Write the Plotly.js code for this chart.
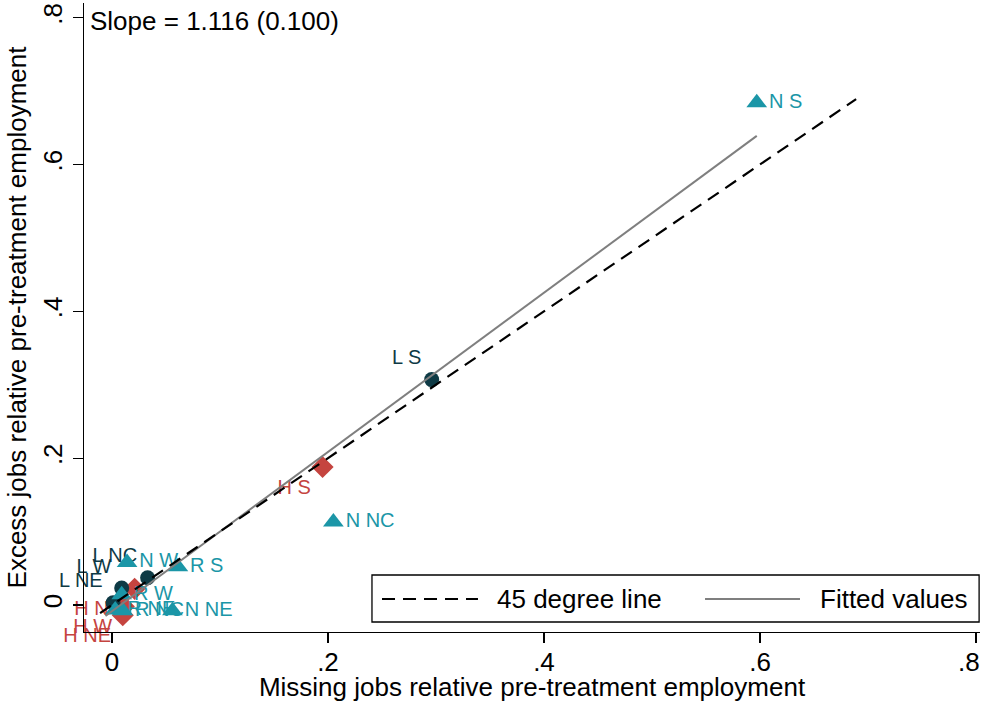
<!DOCTYPE html>
<html>
<head>
<meta charset="utf-8">
<script src="https://cdn.plot.ly/plotly-3.0.1.min.js"></script>
<style>
  html, body { margin: 0; padding: 0; background: #fff; }
  #chart { width: 981px; height: 702px; }
</style>
</head>
<body>
<div id="chart"></div>
<script>
// ---- Data ----
// Group N (teal triangles)
const nLabels = ['N S', 'N NC', 'N W', 'N NE'];
const nX = [0.597, 0.205, 0.014, 0.056];
const nY = [0.684, 0.113, 0.058, -0.008];
// Group R (teal triangles)
const rLabels = ['R S', 'R W', 'R NE', 'R NC'];
const rX = [0.061, 0.009, 0.003, 0.010];
const rY = [0.052, 0.014, -0.007, -0.008];
// Group L (dark circles)
const lLabels = ['L S', 'L NC', 'L W', 'L NE'];
const lX = [0.296, 0.033, 0.009, 0.001];
const lY = [0.307, 0.037, 0.023, 0.003];
// Group H (red diamonds)
const hLabels = ['H S', 'H NC', 'H W', 'H NE'];
const hX = [0.195, 0.021, 0.011, 0.010];
const hY = [0.188, 0.022, -0.002, -0.014];
// 45 degree line and fitted values
const diagX = [-0.011, 0.689];
const diagY = [-0.011, 0.689];
const fitX = [-0.006, 0.597];
const fitY = [-0.015, 0.639];
// Axis ticks
const tickVals = [0, 0.2, 0.4, 0.6, 0.8];
const tickText = ['0', '.2', '.4', '.6', '.8'];
const legendNames = ['45 degree line', 'Fitted values'];
const slopeText = 'Slope = 1.116 (0.100)';

// ---- Styles ----
const FONT = 'Liberation Sans, Arial, sans-serif';
const TEAL = '#1b96a7';
const DARK = '#0e3a45';
const RED = '#c5443f';

function group(x, y, labels, color, symbol, size, pos) {
  return {
    x: x, y: y, text: labels, type: 'scatter', mode: 'markers+text',
    marker: { color: color, symbol: symbol, size: size, line: { width: 0 } },
    textposition: pos,
    textfont: { family: FONT, size: 20, color: color },
    cliponaxis: false, showlegend: false, hoverinfo: 'skip'
  };
}

const traces = [
  group(hX, hY, hLabels, RED, 'diamond', 17, 'bottom left'),
  group(lX, lY, lLabels, DARK, 'circle', 15, 'top left'),
  group(nX, nY, nLabels, TEAL, 'triangle-up', 18, 'middle right'),
  group(rX, rY, rLabels, TEAL, 'triangle-up', 18, 'middle right'),
  { x: fitX, y: fitY, type: 'scatter', mode: 'lines', name: legendNames[1],
    line: { color: '#7f7f7f', width: 2 }, showlegend: false, hoverinfo: 'skip' },
  { x: diagX, y: diagY, type: 'scatter', mode: 'lines', name: legendNames[0],
    line: { color: '#000000', width: 2.2, dash: '13px,8px' }, showlegend: false, hoverinfo: 'skip' }
];

// The last x tick label sits flush with the right page edge (as in the reference)
const xTickText = tickText.map((t, i) => (i === tickText.length - 1 ? '' : t));

// Legend drawn as a boxed key (paper coordinates)
const legY = 0.0525;
const layout = {
  width: 981, height: 702,
  margin: { l: 84, r: 1, t: 3, b: 70 },
  paper_bgcolor: '#ffffff', plot_bgcolor: '#ffffff',
  font: { family: FONT, size: 26, color: '#000' },
  showlegend: false,
  xaxis: {
    range: [-0.0259, 0.8037], tickvals: tickVals, ticktext: xTickText,
    ticks: 'outside', ticklen: 10, tickwidth: 1.3, tickcolor: '#000',
    ticklabelstandoff: -4,
    showline: true, linecolor: '#000', linewidth: 1.3,
    showgrid: false, zeroline: false,
    tickfont: { family: FONT, size: 26, color: '#000' },
    title: { text: 'Missing jobs relative pre-treatment employment', font: { family: FONT, size: 26, color: '#000' }, standoff: 4 },
    automargin: false
  },
  yaxis: {
    range: [-0.0368, 0.820], tickvals: tickVals, ticktext: tickText,
    tickangle: -90,
    ticks: 'outside', ticklen: 10, tickwidth: 1.3, tickcolor: '#000',
    ticklabeloverflow: 'allow',
    showline: true, linecolor: '#000', linewidth: 1.3,
    showgrid: false, zeroline: false,
    tickfont: { family: FONT, size: 26, color: '#000' },
    title: { text: 'Excess jobs relative pre-treatment employment', font: { family: FONT, size: 26, color: '#000' }, standoff: 4 },
    automargin: false
  },
  shapes: [
    { type: 'rect', xref: 'paper', yref: 'paper', x0: 0.3214, x1: 0.999, y0: 0.0159, y1: 0.0906,
      fillcolor: '#ffffff', line: { color: '#000', width: 1.3 }, layer: 'above' },
    { type: 'line', xref: 'paper', yref: 'paper', x0: 0.3326, x1: 0.4397, y0: legY, y1: legY,
      line: { color: '#000', width: 2.2, dash: '13px,8px' }, layer: 'above' },
    { type: 'line', xref: 'paper', yref: 'paper', x0: 0.6931, x1: 0.7991, y0: legY, y1: legY,
      line: { color: '#7f7f7f', width: 2 }, layer: 'above' }
  ],
  annotations: [
    { xref: 'paper', yref: 'paper', x: 0.4587, y: legY, xanchor: 'left', yanchor: 'middle',
      text: legendNames[0], showarrow: false, font: { family: FONT, size: 26, color: '#000' } },
    { xref: 'paper', yref: 'paper', x: 0.8192, y: legY, xanchor: 'left', yanchor: 'middle',
      text: legendNames[1], showarrow: false, font: { family: FONT, size: 26, color: '#000' } },
    { xref: 'paper', yref: 'paper', x: 0.004, y: 0.972, xanchor: 'left', yanchor: 'middle',
      text: slopeText, showarrow: false, font: { family: FONT, size: 26, color: '#000' } },
    { xref: 'paper', yref: 'paper', x: 1.0, y: -0.047, xanchor: 'right', yanchor: 'middle',
      text: tickText[tickText.length - 1], showarrow: false, borderpad: 0, xshift: 1,
      font: { family: FONT, size: 26, color: '#000' } }
  ]
};

Plotly.newPlot('chart', traces, layout, { displayModeBar: false, staticPlot: true });
</script>
</body>
</html>
